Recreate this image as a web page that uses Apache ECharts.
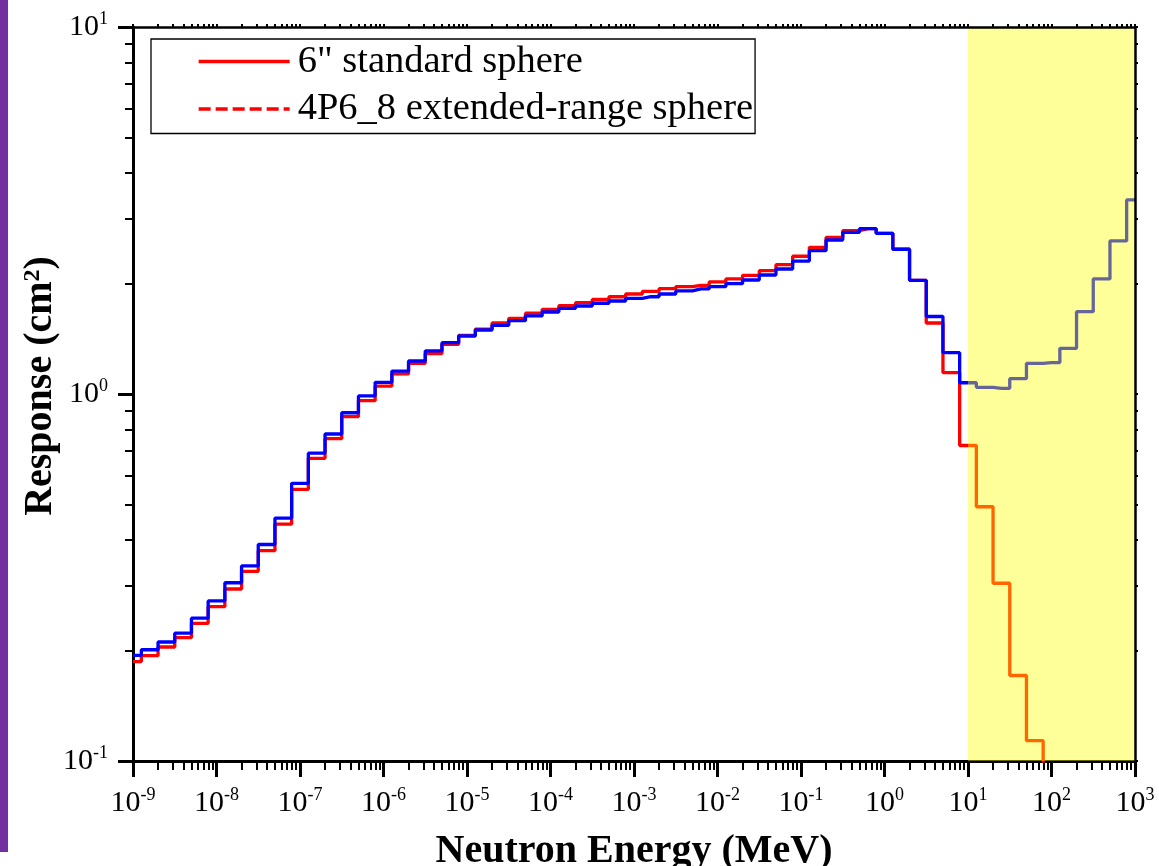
<!DOCTYPE html>
<html><head><meta charset="utf-8">
<script src="https://cdn.jsdelivr.net/npm/echarts@6/dist/echarts.min.js"></script>
<style>html,body{margin:0;padding:0;background:#fff}#c{width:1159px;height:866px}</style>
</head><body><div id="c"></div>
<script>
// Bin energies (MeV), 5 per decade
const energies = [
  1e-9,1.585e-9,2.512e-9,3.981e-9,6.310e-9,
  1e-8,1.585e-8,2.512e-8,3.981e-8,6.310e-8,
  1e-7,1.585e-7,2.512e-7,3.981e-7,6.310e-7,
  1e-6,1.585e-6,2.512e-6,3.981e-6,6.310e-6,
  1e-5,1.585e-5,2.512e-5,3.981e-5,6.310e-5,
  1e-4,1.585e-4,2.512e-4,3.981e-4,6.310e-4,
  1e-3,1.585e-3,2.512e-3,3.981e-3,6.310e-3,
  1e-2,1.585e-2,2.512e-2,3.981e-2,6.310e-2,
  1e-1,1.585e-1,2.512e-1,3.981e-1,6.310e-1,
  1,1.585,2.512,3.981,6.310,
  10,15.85,25.12,39.81,63.10,
  100,158.5,251.2,398.1,631.0,
  1000
];
// 6" standard sphere (red)
const standardSphere = [
  0.1865,0.1936,0.2045,0.2168,0.2372,0.2633,0.2942,0.3288,0.3741,0.4422,
  0.5500,0.6681,0.7556,0.8672,0.9588,1.051,1.134,1.212,1.288,1.366,
  1.445,1.503,1.561,1.608,1.660,1.701,1.740,1.774,1.809,1.841,
  1.873,1.905,1.936,1.961,1.978,2.020,2.058,2.106,2.168,2.251,
  2.373,2.510,2.673,2.786,2.821,2.741,2.480,2.041,1.561,1.143,
  0.724,0.493,0.305,0.171,0.1136,0.05
];
// 4P6_8 extended-range sphere (blue)
const extendedSphere = [
  0.194,0.201,0.211,0.223,0.245,0.273,0.306,0.340,0.389,0.459,
  0.571,0.690,0.778,0.889,0.988,1.076,1.155,1.230,1.310,1.380,
  1.439,1.494,1.539,1.584,1.632,1.673,1.712,1.737,1.767,1.792,
  1.823,1.841,1.873,1.909,1.933,1.961,1.998,2.045,2.110,2.191,
  2.303,2.458,2.628,2.758,2.821,2.741,2.480,2.041,1.626,1.296,
  1.073,1.043,1.036,1.101,1.212,1.217,1.332,1.676,2.058,2.612,
  3.379
];
const seriesNames = ['6" standard sphere', '4P6_8 extended-range sphere'];
const xTickValues = [1e-9,1e-8,1e-7,1e-6,1e-5,1e-4,1e-3,1e-2,1e-1,1,10,100,1000];
const xTickLabels = ['-9','-8','-7','-6','-5','-4','-3','-2','-1','0','1','2','3'];
const yTickValues = [0.1,1,10];
const yTickLabels = ['-1','0','1'];
const highlightRange = [10, 1000];

function minorTicks(majors) {
  const out = [];
  for (let i = 0; i < majors.length - 1; i++)
    for (let m = 2; m <= 9; m++) out.push(+(majors[i] * m).toPrecision(3));
  return out;
}
const xMinor = minorTicks(xTickValues);
const yMinor = minorTicks(yTickValues);

const FONT = 'Liberation Serif';
const rich = {
  b: {fontFamily: FONT, fontSize: 30, color: '#000', lineHeight: 34},
  s: {fontFamily: FONT, fontSize: 18, color: '#000', lineHeight: 8, verticalAlign: 'top'}
};
function fmt(values, labels) {
  return function (v) {
    let best = 0, bd = Infinity;
    values.forEach((t, i) => { const d = Math.abs(Math.log10(t) - Math.log10(v)); if (d < bd) { bd = d; best = i; } });
    return '{b|10}{s|' + labels[best] + '}';
  };
}
const black = '#000';
const xBase = {type: 'log', logBase: 10, min: 1e-9, max: 1e3, gridIndex: 0, splitLine: {show: false}};
const yBase = {type: 'log', logBase: 10, min: 0.1, max: 10, gridIndex: 0, splitLine: {show: false}};
const LW = 3.3;

const chart = echarts.init(document.getElementById('c'), null, {renderer: 'canvas'});
chart.setOption({
  animation: false,
  backgroundColor: '#fff',
  grid: {left: 133, right: 24, top: 27, bottom: 105, containLabel: false, outerBoundsMode: 'none'},
  graphic: [{type: 'rect', left: 0, top: 0, shape: {width: 8, height: 852}, style: {fill: '#7030A0'}}],
  legend: {
    orient: 'vertical', left: 151, top: 39,
    itemWidth: 91, itemHeight: 2, itemGap: 8.5,
    padding: [3, 2, 5, 46],
    borderColor: '#000', borderWidth: 1.3,
    itemStyle: {color: 'rgba(0,0,0,0)', borderWidth: 0},
    textStyle: {fontFamily: FONT, fontSize: 38.5, lineHeight: 39, color: '#000', padding: [0, 0, 0, 3]},
    data: [
      {name: seriesNames[0], lineStyle: {color: '#ff0000', width: LW}, itemStyle: {color: 'rgba(0,0,0,0)', borderWidth: 0}},
      {name: seriesNames[1], lineStyle: {color: '#ff0000', width: LW, type: [12, 5]}, itemStyle: {color: 'rgba(0,0,0,0)', borderWidth: 0}}
    ]
  },
  xAxis: [
    Object.assign({}, xBase, {
      position: 'bottom',
      name: 'Neutron Energy (MeV)', nameLocation: 'middle', nameGap: 71, nameMoveOverlap: false,
      nameTextStyle: {fontFamily: FONT, fontSize: 40, fontWeight: 'bold', color: '#000', lineHeight: 40},
      axisLine: {show: true, lineStyle: {color: black, width: 3}},
      axisTick: {show: true, inside: false, length: 16, lineStyle: {color: black, width: 3}, customValues: xTickValues},
      axisLabel: {show: true, margin: 25, customValues: xTickValues, formatter: fmt(xTickValues, xTickLabels), rich: rich}
    }),
    Object.assign({}, xBase, {
      position: 'bottom',
      axisLine: {show: false},
      axisTick: {show: true, inside: false, length: 9, lineStyle: {color: black, width: 2}, customValues: xMinor},
      axisLabel: {show: false}
    }),
    Object.assign({}, xBase, {
      position: 'top', z: 20,
      axisLine: {show: true, lineStyle: {color: black, width: 2.5}},
      axisTick: {show: true, inside: false, length: 3, lineStyle: {color: black, width: 2}, customValues: xTickValues.concat(xMinor)},
      axisLabel: {show: false}
    })
  ],
  yAxis: [
    Object.assign({}, yBase, {
      position: 'left',
      name: '{n|Response (cm}{ns|2}{n|)}', nameLocation: 'middle', nameGap: 72, nameRotate: 90, nameMoveOverlap: false,
      nameTextStyle: {
        padding: [0, 0, 0, 16],
        rich: {
          n: {fontFamily: FONT, fontSize: 40, fontWeight: 'bold', color: '#000', lineHeight: 40},
          ns: {fontFamily: FONT, fontSize: 24, fontWeight: 'bold', color: '#000', lineHeight: 12, verticalAlign: 'top'}
        }
      },
      axisLine: {show: true, lineStyle: {color: black, width: 3}},
      axisTick: {show: true, inside: false, length: 15, lineStyle: {color: black, width: 3}, customValues: yTickValues},
      axisLabel: {show: true, margin: 25, customValues: yTickValues, formatter: fmt(yTickValues, yTickLabels), rich: rich}
    }),
    Object.assign({}, yBase, {
      position: 'left',
      axisLine: {show: false},
      axisTick: {show: true, inside: false, length: 8, lineStyle: {color: black, width: 2}, customValues: yMinor},
      axisLabel: {show: false}
    }),
    Object.assign({}, yBase, {
      position: 'right', z: 20,
      axisLine: {show: true, lineStyle: {color: black, width: 2.5}},
      axisTick: {show: true, inside: false, length: 3, lineStyle: {color: black, width: 2}, customValues: yTickValues.concat(yMinor)},
      axisLabel: {show: false}
    })
  ],
  series: [
    {
      name: seriesNames[0], type: 'line', step: 'middle', xAxisIndex: 0, yAxisIndex: 0,
      symbol: 'none', showSymbol: false,
      lineStyle: {color: '#ff0000', width: LW}, itemStyle: {color: '#ff0000'},
      data: standardSphere.map((v, i) => [energies[i], v])
    },
    {
      name: seriesNames[1], type: 'line', step: 'middle', xAxisIndex: 0, yAxisIndex: 0,
      symbol: 'none', showSymbol: false,
      lineStyle: {color: '#0000ff', width: LW}, itemStyle: {color: '#0000ff'},
      data: extendedSphere.map((v, i) => [energies[i], v])
    },
    {
      name: 'highlight', type: 'line', xAxisIndex: 0, yAxisIndex: 0, z: 10, data: [], silent: true,
      markArea: {
        silent: true, z: 10,
        itemStyle: {color: 'rgba(255,255,0,0.4)'},
        data: [[{xAxis: highlightRange[0], yAxis: 0.1}, {xAxis: highlightRange[1], yAxis: 10}]]
      }
    }
  ]
});
</script>
</body></html>
